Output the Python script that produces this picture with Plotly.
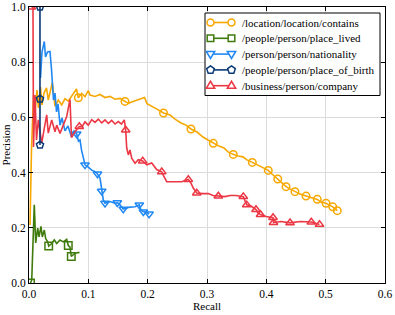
import plotly.graph_objects as go

# ---------------- data ----------------
names = [
    "/location/location/contains",
    "/people/person/place_lived",
    "/person/person/nationality",
    "/people/person/place_of_birth",
    "/business/person/company",
]

contains_recall = [0.0017, 0.0042, 0.0076, 0.0101, 0.0135, 0.016, 0.0194, 0.0219, 0.0253, 0.0295,
                   0.0325, 0.0362, 0.0393, 0.0438, 0.0494, 0.0551, 0.0607, 0.0662, 0.072, 0.0775,
                   0.080, 0.0831, 0.0888, 0.0944, 0.0999, 0.1028, 0.1112, 0.1197, 0.1281, 0.1365,
                   0.145, 0.1534, 0.1618, 0.1674, 0.1753, 0.1837, 0.1947, 0.1989, 0.2073, 0.2157,
                   0.2267, 0.2377, 0.2461, 0.2562, 0.2646, 0.2730, 0.2832, 0.2933, 0.3017, 0.3106,
                   0.3202, 0.3287, 0.3354, 0.3443, 0.3523, 0.3607, 0.3674, 0.3764, 0.3843, 0.3927,
                   0.4033, 0.4096, 0.4192, 0.4264, 0.4332, 0.4399, 0.4483, 0.4568, 0.4669, 0.4753,
                   0.4859, 0.4922, 0.5006, 0.5056, 0.5119, 0.5196]
contains_precision = [0.21, 0.482, 0.681, 0.620, 0.699, 0.634, 0.710, 0.645, 0.688, 0.707,
                      0.663, 0.699, 0.726, 0.641, 0.663, 0.645, 0.668, 0.659, 0.676, 0.694,
                      0.703, 0.671, 0.687, 0.675, 0.697, 0.681, 0.676, 0.683, 0.672, 0.676,
                      0.666, 0.669, 0.658, 0.651, 0.658, 0.665, 0.672, 0.650, 0.641, 0.630,
                      0.616, 0.609, 0.594, 0.580, 0.572, 0.558, 0.547, 0.529, 0.518, 0.506,
                      0.496, 0.489, 0.475, 0.466, 0.460, 0.457, 0.446, 0.437, 0.428, 0.417,
                      0.408, 0.395, 0.377, 0.362, 0.349, 0.341, 0.331, 0.322, 0.315, 0.310,
                      0.303, 0.293, 0.289, 0.283, 0.276, 0.262]
contains_marks = [21, 32, 40, 45, 49, 53, 57, 60, 62, 64, 66, 68, 70, 72, 74, 75]

lived_recall = [0.0025, 0.0046, 0.0089, 0.0113, 0.0147, 0.0169, 0.0202, 0.0224, 0.0258, 0.0281,
                0.0315, 0.0332, 0.0383, 0.0426, 0.0467, 0.0523, 0.0578, 0.0635, 0.0662, 0.0691,
                0.0713, 0.0775, 0.0851]
lived_precision = [0.0, 0.011, 0.283, 0.145, 0.199, 0.167, 0.205, 0.167, 0.192, 0.161,
                   0.149, 0.134, 0.143, 0.156, 0.143, 0.156, 0.149, 0.158, 0.136, 0.130,
                   0.096, 0.108, 0.111]
lived_marks = [0, 11, 18, 20]

nationality_recall = [0.0194, 0.0219, 0.0258, 0.0278, 0.0312, 0.0354, 0.0379, 0.0396, 0.0413, 0.0438,
                      0.0464, 0.0489, 0.0523, 0.0556, 0.0607, 0.0657, 0.0716, 0.0758, 0.0804, 0.0834,
                      0.0860, 0.0885, 0.0910, 0.0944, 0.0999, 0.1057, 0.1112, 0.1155, 0.1197, 0.1225,
                      0.1252, 0.1281, 0.1365, 0.1450, 0.1488, 0.1534, 0.1589, 0.1674, 0.1787, 0.1859,
                      0.1888, 0.1927, 0.1972, 0.2023]
nationality_precision = [0.743, 0.837, 0.875, 0.819, 0.837, 0.839, 0.775, 0.717, 0.663, 0.688,
                         0.620, 0.649, 0.572, 0.598, 0.551, 0.569, 0.529, 0.551, 0.540, 0.514,
                         0.518, 0.482, 0.453, 0.428, 0.420, 0.409, 0.403, 0.395, 0.380, 0.333,
                         0.301, 0.289, 0.295, 0.289, 0.291, 0.283, 0.268, 0.274, 0.276, 0.283,
                         0.264, 0.258, 0.257, 0.250]
nationality_marks = [18, 23, 27, 29, 31, 34, 36, 39, 41, 43]

birth_recall = [0.0185, 0.0185, 0.0185]
birth_precision = [1.0, 0.5, 0.667]
birth_marks = [0, 1, 2]

company_recall = [0.004, 0.0067, 0.0076, 0.0101, 0.0126, 0.0157, 0.0214, 0.0241, 0.0298, 0.0325,
                  0.0383, 0.0438, 0.0467, 0.0523, 0.0573, 0.0635, 0.0691, 0.0716, 0.0775, 0.0848,
                  0.0893, 0.0944, 0.0999, 0.1057, 0.1112, 0.1168, 0.1225, 0.1281, 0.1337, 0.1394,
                  0.1450, 0.1505, 0.1559, 0.1606, 0.1630, 0.1647, 0.1674, 0.1702, 0.1731, 0.1787,
                  0.1842, 0.1916, 0.1984, 0.2068, 0.2152, 0.2237, 0.2267, 0.2321, 0.2432, 0.2574,
                  0.2685, 0.2730, 0.2769, 0.2827, 0.2933, 0.3022, 0.3101, 0.3191, 0.3304, 0.3388,
                  0.3489, 0.3612, 0.3632, 0.3669, 0.3742, 0.3826, 0.3860, 0.3902, 0.3995, 0.4113,
                  0.4121, 0.4247, 0.4399, 0.4568, 0.4758, 0.4896]
company_precision = [1.0, 1.0, 0.493, 0.681, 0.518, 0.591, 0.507, 0.543, 0.609, 0.543,
                     0.591, 0.548, 0.572, 0.542, 0.572, 0.603, 0.665, 0.527, 0.548, 0.567,
                     0.566, 0.584, 0.572, 0.592, 0.582, 0.594, 0.580, 0.591, 0.578, 0.589,
                     0.576, 0.585, 0.576, 0.591, 0.554, 0.489, 0.464, 0.482, 0.452, 0.434,
                     0.447, 0.442, 0.428, 0.435, 0.411, 0.403, 0.389, 0.367, 0.367, 0.367,
                     0.375, 0.362, 0.344, 0.326, 0.324, 0.324, 0.317, 0.315, 0.313, 0.317,
                     0.317, 0.313, 0.301, 0.283, 0.279, 0.266, 0.254, 0.248, 0.241, 0.237,
                     0.219, 0.223, 0.218, 0.223, 0.221, 0.212]
company_marks = [0, 19, 34, 41, 45, 50, 53, 57, 61, 63, 65, 67, 69, 70, 72, 74, 75]

x_ticks = [0.0, 0.1, 0.2, 0.3, 0.4, 0.5, 0.6]
y_ticks = [0.0, 0.2, 0.4, 0.6, 0.8, 1.0]

# ---------------- style ----------------
series = [
    (contains_recall, contains_precision, contains_marks, "#f7a800", "circle-open"),
    (lived_recall, lived_precision, lived_marks, "#3f7a0c", "square-open"),
    (nationality_recall, nationality_precision, nationality_marks, "#2188f2", "triangle-down-open"),
    (birth_recall, birth_precision, birth_marks, "#0b3a78", "pentagon-open"),
    (company_recall, company_precision, company_marks, "#ec3744", "triangle-up-open"),
]

FONT = "Liberation Serif"
W, H = 395, 315
ML, MR, MT, MB = 29, 10, 7, 32
PW, PH = W - ML - MR, H - MT - MB

fig = go.Figure()

draw_order = [0, 1, 2, 4, 3]
for i in draw_order:
    xs, ys, marks, color, sym = series[i]
    fig.add_trace(go.Scatter(x=xs, y=ys, mode="lines", name=names[i], showlegend=False,
                             line=dict(color=color, width=1.6), hoverinfo="skip"))
    fig.add_trace(go.Scatter(x=[xs[k] for k in marks], y=[ys[k] for k in marks],
                             mode="markers", name=names[i], showlegend=False,
                             marker=dict(symbol=sym, size=7.5, color=color,
                                         line=dict(color=color, width=1.5))))

# ---------------- matplotlib-style legend (box, handles, labels) ----------------
def px_x(p):
    return (p - ML) / PW

def px_y(p):
    return (H - MB - p) / PH

box_l, box_t, box_r, box_b = 205, 13, 380, 95.5
row_y = [22.5, 38.3, 54.1, 69.9, 85.7]
handle_l, handle_r, text_x = 210.5, 231.5, 240

shapes = [dict(type="rect", xref="paper", yref="paper", layer="above",
               x0=px_x(box_l), x1=px_x(box_r), y0=px_y(box_b), y1=px_y(box_t),
               fillcolor="white", line=dict(color="black", width=1))]

marker_paths = {
    "triangle-down-open": "M-4.2,2.6 L4.2,2.6 L0,-4.4 Z",
    "pentagon-open": "M0,4 L3.8,1.24 L2.35,-3.24 L-2.35,-3.24 L-3.8,1.24 Z",
    "triangle-up-open": "M-4.2,-2.6 L4.2,-2.6 L0,4.4 Z",
}
annotations = []
for i, nm in enumerate(names):
    color, sym = series[i][3], series[i][4]
    yp = px_y(row_y[i])
    shapes.append(dict(type="line", xref="paper", yref="paper", layer="above",
                       x0=px_x(handle_l), x1=px_x(handle_r), y0=yp, y1=yp,
                       line=dict(color=color, width=1.6)))
    for hx in (handle_l, handle_r):
        base = dict(xref="paper", yref="paper", layer="above", xsizemode="pixel", ysizemode="pixel",
                    xanchor=px_x(hx), yanchor=yp, fillcolor="white",
                    line=dict(color=color, width=1.5))
        if sym == "circle-open":
            base.update(type="circle", x0=-3.5, x1=3.5, y0=-3.5, y1=3.5)
        elif sym == "square-open":
            base.update(type="rect", x0=-3.3, x1=3.3, y0=-3.3, y1=3.3)
        else:
            base.update(type="path", path=marker_paths[sym])
        shapes.append(base)
    annotations.append(dict(xref="paper", yref="paper", x=px_x(text_x), y=yp,
                            xanchor="left", yanchor="middle", showarrow=False,
                            text=nm, font=dict(family=FONT, size=11, color="black")))

axis_common = dict(showline=True, linecolor="black", linewidth=1, mirror="ticks",
                   ticks="inside", ticklen=4, tickcolor="black", automargin=False,
                   showgrid=True, gridcolor="#dcdcdc", gridwidth=1, zeroline=False,
                   tickfont=dict(family=FONT, size=11.5, color="black"))

fig.update_layout(
    width=W, height=H,
    margin=dict(l=ML, r=MR, t=MT, b=MB),
    paper_bgcolor="white", plot_bgcolor="white",
    font=dict(family=FONT, color="black"),
    xaxis=dict(range=[0, 0.6], tickvals=x_ticks, ticktext=[f"{v:.1f}" for v in x_ticks],
               title=dict(text="Recall", font=dict(family=FONT, size=11), standoff=1),
               **axis_common),
    yaxis=dict(range=[0, 1.0], tickvals=y_ticks, ticktext=[f"{v:.1f}" for v in y_ticks],
               title=dict(text="Precision", font=dict(family=FONT, size=11), standoff=2),
               **axis_common),
    shapes=shapes,
    annotations=annotations,
    showlegend=False,
)

fig.write_html("out.html")
